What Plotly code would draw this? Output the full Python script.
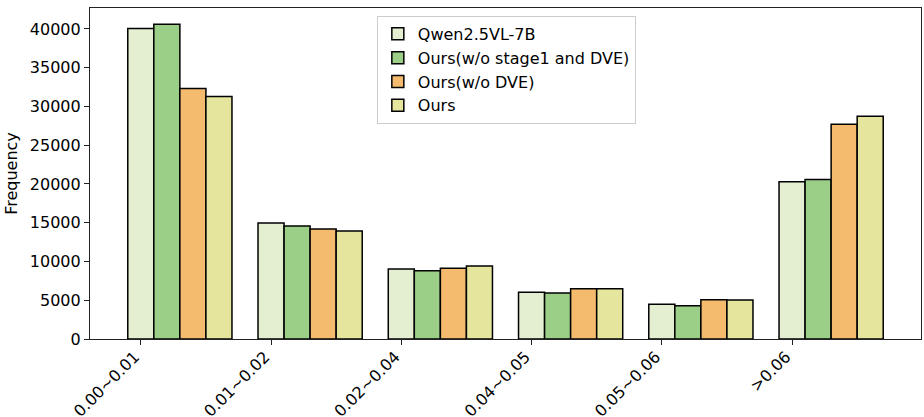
import numpy as np
import plotly.graph_objects as go

categories = ["0.00~0.01", "0.01~0.02", "0.02~0.04", "0.04~0.05", "0.05~0.06", ">0.06"]
series_names = ["Qwen2.5VL-7B", "Ours(w/o stage1 and DVE)", "Ours(w/o DVE)", "Ours"]
qwen = [40050, 14970, 9030, 6020, 4470, 20300]
ours_no_s1_dve = [40600, 14580, 8810, 5935, 4300, 20560]
ours_no_dve = [32300, 14190, 9120, 6490, 5070, 27700]
ours = [31270, 13940, 9420, 6490, 5030, 28730]
colors = ["#e3efd0", "#9bcf87", "#f4bb6f", "#e5e59d"]

values = [qwen, ours_no_s1_dve, ours_no_dve, ours]
bar_w = 0.2
base = np.arange(len(categories))

fig = go.Figure()
for j, (name, vals, col) in enumerate(zip(series_names, values, colors)):
    fig.add_trace(go.Bar(
        x=base + j * bar_w, y=vals, name=name, width=bar_w,
        marker=dict(color=col, line=dict(color="black", width=1.5)),
    ))

font = dict(family="DejaVu Sans", size=16, color="black")
fig.update_layout(
    width=924, height=417,
    margin=dict(l=90, r=3, t=8, b=78, autoexpand=False),
    barmode="overlay",
    plot_bgcolor="white", paper_bgcolor="white",
    font=font,
    showlegend=True,
    legend=dict(x=0.501, y=0.976, xanchor="center", yanchor="top",
                bgcolor="white", bordercolor="#cccccc", borderwidth=1,
                font=dict(family="DejaVu Sans", size=16, color="black"),
                tracegroupgap=0),
)
fig.update_xaxes(
    range=[-0.39, 5.99], tickmode="array", tickvals=base, ticktext=categories,
    tickangle=-45, showline=True, linecolor="#222", linewidth=1.2, mirror=True,
    ticks="outside", ticklen=5, tickcolor="#222", showgrid=False, zeroline=False,
    tickfont=font, automargin=False, ticklabelshift=-6, ticklabelstandoff=-4,
)
fig.update_yaxes(
    range=[0, 42700], tickmode="array", tickvals=list(range(0, 45000, 5000)),
    ticktext=[str(v) for v in range(0, 45000, 5000)],
    title=dict(text="Frequency", font=font, standoff=8),
    showline=True, linecolor="#222", linewidth=1.2, mirror=True,
    ticks="outside", ticklen=5, tickcolor="#222", showgrid=False, zeroline=False,
    tickfont=font, automargin=False,
)
js = ("document.body.style.margin='0';document.body.style.overflow='hidden';")
fig.write_html("out.html", post_script=js, config={"displayModeBar": False})
